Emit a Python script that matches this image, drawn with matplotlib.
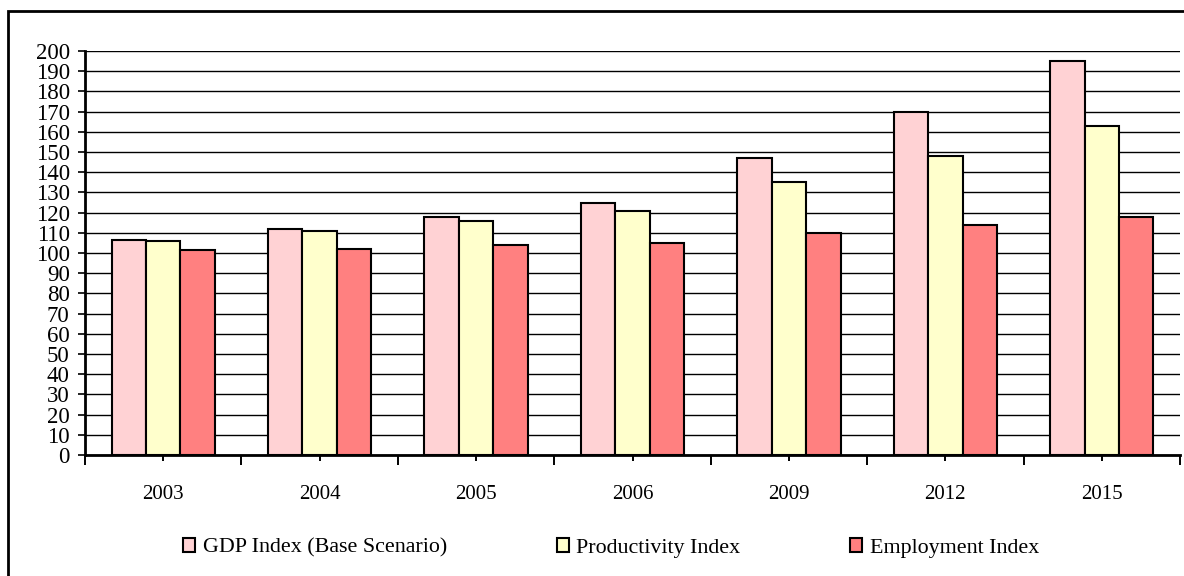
import numpy as np
import matplotlib
matplotlib.use("Agg")
import matplotlib.pyplot as plt
from matplotlib.patches import Rectangle, Patch
from matplotlib.ticker import MultipleLocator, FixedLocator

# ---------------------------------------------
# data
# ---------------------------------------------
years = ["2003", "2004", "2005", "2006", "2009", "2012", "2015"]
gdp_index = [106.5, 112, 118, 125, 147, 170, 195]
productivity_index = [106, 111, 116, 121, 135, 148, 163]
employment_index = [101.5, 102, 104, 105, 110, 114, 118]

series_names = ["GDP Index (Base Scenario)", "Productivity Index", "Employment Index"]
series_colors = ["#FFD2D4", "#FFFFCC", "#FF8080"]

plt.rcParams["font.family"] = ["Liberation Serif", "DejaVu Serif"]

W, H = 1184, 576
fig = plt.figure(figsize=(W / 100, H / 100), dpi=100)
ax = fig.add_axes([85 / W, 1 - 455 / H, (1180 - 85) / W, (455 - 51) / H])

x = np.arange(len(years))
bar_w = 0.22
for i, (vals, color) in enumerate(zip([gdp_index, productivity_index, employment_index], series_colors)):
    ax.bar(x + (i - 1) * bar_w, vals, width=bar_w, color=color,
           edgecolor="black", linewidth=1.5, zorder=3)

ax.set_xlim(-0.5, len(years) - 0.5)
ax.set_ylim(0, 200)

# y axis
ax.yaxis.set_major_locator(MultipleLocator(10))
ax.yaxis.grid(True, color="black", linewidth=1.0, zorder=0)
ax.tick_params(axis="y", direction="out", length=5, width=1.2, labelsize=16.5, pad=6)

# x axis: boundary ticks outside, centre ticks crossing the axis
ax.xaxis.set_major_locator(FixedLocator(np.arange(len(years) + 1) - 0.5))
ax.xaxis.set_minor_locator(FixedLocator(x))
ax.set_xticklabels([])
ax.set_xticks(x, labels=years, minor=True)
ax.tick_params(axis="x", which="major", direction="out", length=7, width=1.4)
ax.tick_params(axis="x", which="minor", direction="inout", length=9, width=1.4,
               labelsize=15, pad=17)

for side in ["top", "right"]:
    ax.spines[side].set_visible(False)
for side in ["left", "bottom"]:
    ax.spines[side].set_linewidth(2)
    ax.spines[side].set_zorder(4)

# outer frame
fig.add_artist(Rectangle((8 / W, -0.1), 1.2, 1.1 - 10.7 / H, transform=fig.transFigure,
                         fill=False, edgecolor="black", linewidth=2, clip_on=False))

handles = [Patch(facecolor=c, edgecolor="black", linewidth=1.5) for c in series_colors]
fig.legend(handles, series_names, loc="center left", ncol=3,
           bbox_to_anchor=(183 / W, 1 - 548 / H), frameon=False, fontsize=15.8,
           handlelength=0.55, handleheight=0.55, handletextpad=0.35,
           columnspacing=5.0, borderaxespad=0, borderpad=0)

fig.savefig("out.png", dpi=100)
